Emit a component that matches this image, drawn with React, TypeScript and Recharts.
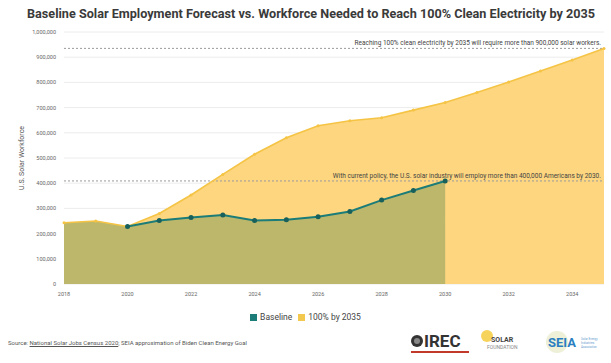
import React from "react";
import {
  ComposedChart, Area, Line, XAxis, YAxis, CartesianGrid, ReferenceLine,
} from "recharts";

const years = [2018, 2019, 2020, 2021, 2022, 2023, 2024, 2025, 2026, 2027, 2028, 2029, 2030, 2031, 2032, 2033, 2034, 2035];
// baseline forecast, ends in 2030
const baseline = [243000, 250000, 228000, 252000, 264000, 274000, 252000, 255000, 267000, 288000, 333000, 371000, 409000, null, null, null, null, null];
// workforce needed for 100% clean electricity by 2035
const clean = [243000, 250000, 228000, 280000, 353000, 435000, 515000, 580000, 628000, 648000, 660000, 690000, 720000, 760000, 802000, 845000, 889000, 935000];
const yTicks = [0, 100000, 200000, 300000, 400000, 500000, 600000, 700000, 800000, 900000, 1000000];
const xTicks = [2018, 2020, 2022, 2024, 2026, 2028, 2030, 2032, 2034];
const baselineLineStart = 2020;
const target2035 = 935000;
const target2030 = 409000;

const data = years.map((year, i) => ({
  year,
  baseline: baseline[i],
  baselineLine: year >= baselineLineStart ? baseline[i] : null,
  clean: clean[i],
}));

const TEAL = "#1c7c78";
const TEAL_DOT = "#17605c";
const YELLOW_FILL = "#fdd67f";
const YELLOW_LINE = "#f5c445";
const OLIVE = "#bdb76b";

const tickStyle = { fontSize: 5.5, fill: "#666", fontFamily: "Roboto" };

function Logos() {
  return (
    <svg width={200} height={34} style={{ position: "absolute", left: 405, top: 326 }}>
      {/* IREC */}
      <circle cx={12} cy={15} r={6} fill="#333" />
      <circle cx={12} cy={15} r={3} fill="#888" />
      <text x={19} y={21} fontSize={17} fontWeight={700} fill="#333" fontFamily="Roboto">IREC</text>
      <rect x={6} y={25} width={58} height={2} fill="#c0392b" />
      {/* The Solar Foundation */}
      <circle cx={82} cy={10} r={6} fill="#f6d35a" />
      <text x={86} y={16} fontSize={7} fontWeight={700} fill="#444" fontFamily="Roboto">SOLAR</text>
      <text x={82} y={23} fontSize={5} fill="#888" fontFamily="Roboto">FOUNDATION</text>
      {/* SEIA */}
      <circle cx={152} cy={16} r={11} fill="#eef1d8" />
      <text x={143} y={21} fontSize={13} fontWeight={700} fill="#2a7fc1" fontFamily="Roboto">SEIA</text>
      <text x={176} y={14} fontSize={3} fill="#6a9fd0" fontFamily="Roboto">Solar Energy</text>
      <text x={176} y={18} fontSize={3} fill="#6a9fd0" fontFamily="Roboto">Industries</text>
      <text x={176} y={22} fontSize={3} fill="#6a9fd0" fontFamily="Roboto">Association</text>
    </svg>
  );
}

export default function App() {
  return (
    <div style={{ position: "absolute", left: 0, top: 0, width: 611, height: 363, background: "#fff", fontFamily: "Roboto" }}>
      <svg width={611} height={26} style={{ position: "absolute", left: 0, top: 0 }}>
        <text x={27} y={18} fontSize={13} fontWeight={700} fill="#3a3a3a" fontFamily="Roboto"
          textLength={568} lengthAdjust="spacingAndGlyphs">
          Baseline Solar Employment Forecast vs. Workforce Needed to Reach 100% Clean Electricity by 2035
        </text>
      </svg>
      <div style={{ position: "absolute", left: 0, top: 0 }}>
        <ComposedChart width={611} height={300} data={data} margin={{ top: 32, right: 7, bottom: 0, left: 0 }}>
          <CartesianGrid vertical={false} stroke="#ececec" />
          <XAxis
            dataKey="year" type="number" domain={[2018, 2035]} ticks={xTicks}
            tick={tickStyle} tickLine={false} axisLine={false} height={16}
          />
          <YAxis
            domain={[0, 1000000]} ticks={yTicks} width={64}
            tickFormatter={(v) => Number(v).toLocaleString("en-US")}
            tick={tickStyle} tickLine={false} axisLine={false}
            label={{ value: "U.S. Solar Workforce", angle: -90, position: "insideLeft", offset: 22, style: { textAnchor: "middle", fontSize: 7, fill: "#555" } }}
          />
          <Area dataKey="clean" type="linear" stroke="none" fill={YELLOW_FILL} fillOpacity={1} isAnimationActive={false} />
          <Area dataKey="baseline" type="linear" stroke="none" fill={OLIVE} fillOpacity={1} isAnimationActive={false} connectNulls={false} />
          <ReferenceLine y={target2035} stroke="#9a9a9a" strokeDasharray="2 2"
            label={{ value: "Reaching 100% clean electricity by 2035 will require more than 900,000 solar workers.", position: "insideBottomRight", offset: 3, fontSize: 6.5, fill: "#444" }} />
          <ReferenceLine y={target2030} stroke="#9a9a9a" strokeDasharray="2 2"
            label={{ value: "With current policy, the U.S. solar industry will employ more than 400,000 Americans by 2030.", position: "insideBottomRight", offset: 3, fontSize: 6.5, fill: "#444" }} />
          <Line dataKey="clean" type="linear" stroke={YELLOW_LINE} strokeWidth={1.6}
            dot={{ r: 1.5, fill: YELLOW_LINE, stroke: "none" }} isAnimationActive={false} />
          <Line dataKey="baselineLine" type="linear" stroke={TEAL} strokeWidth={2}
            dot={{ r: 2.5, fill: TEAL_DOT, stroke: "none" }} isAnimationActive={false} />
        </ComposedChart>
      </div>
      <div style={{ position: "absolute", top: 312, left: 0, width: 611, display: "flex", justifyContent: "center", alignItems: "center", fontSize: 8.5, color: "#444" }}>
        <span style={{ display: "inline-block", width: 7, height: 7, background: TEAL, marginRight: 3 }} />
        <span style={{ marginRight: 6 }}>Baseline</span>
        <span style={{ display: "inline-block", width: 7, height: 7, background: "#f3c84f", marginRight: 3 }} />
        <span>100% by 2035</span>
      </div>
      <div style={{ position: "absolute", top: 339, left: 8, fontSize: 6, color: "#555", whiteSpace: "nowrap" }}>
        Source: <span style={{ textDecoration: "underline" }}>National Solar Jobs Census 2020</span>; SEIA approximation of Biden Clean Energy Goal
      </div>
      <Logos />
    </div>
  );
}
